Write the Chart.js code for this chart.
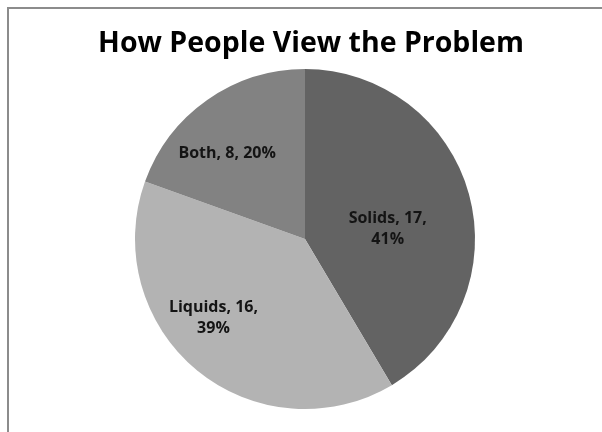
<!DOCTYPE html>
<html>
<head>
<meta charset="utf-8">
<script src="https://cdn.jsdelivr.net/npm/chart.js@4/dist/chart.umd.min.js"></script>
<style>
  html, body { margin: 0; padding: 0; background: #fff; }
  #wrap { position: relative; width: 602px; height: 432px; }
</style>
</head>
<body>
<div id="wrap"><canvas id="chart-view" width="602" height="432"></canvas></div>
<script>
const CATEGORIES = ['Solids', 'Liquids', 'Both'];
const COUNTS = [17, 16, 8];
const SLICE_COLORS = ['#636363', '#b3b3b3', '#828282'];

const FONT = '"Open Sans", "Liberation Sans", sans-serif';

// label placement inside each slice: radius as share of the pie, angle nudge in degrees
const LABEL_RADIUS = [0.49, 0.71, 0.68];
const LABEL_NUDGE = [8.5, 9.8, -7.2];

// gray frame at the top-left, and a small shift to the right for the title
const framePlugin = {
  id: 'frame',
  beforeDraw(chart) {
    const ctx = chart.ctx;
    ctx.save();
    ctx.strokeStyle = '#8c8c8c';
    ctx.lineWidth = 2;
    ctx.beginPath();
    ctx.moveTo(8, chart.height + 5);
    ctx.lineTo(8, 8);
    ctx.lineTo(chart.width + 5, 8);
    ctx.stroke();
    ctx.restore();
    ctx.save();
    ctx.translate(6, 0);
  },
  beforeDatasetsDraw(chart) {
    chart.ctx.restore();
  }
};

// "Category, count, pct%" text inside the slices
const sliceLabels = {
  id: 'sliceLabels',
  afterDatasetsDraw(chart) {
    const ctx = chart.ctx;
    const meta = chart.getDatasetMeta(0);
    const data = chart.data.datasets[0].data;
    const total = data.reduce((a, b) => a + b, 0);
    ctx.save();
    ctx.font = 'bold 16px ' + FONT;
    ctx.fillStyle = '#141414';
    ctx.textAlign = 'center';
    ctx.textBaseline = 'middle';
    meta.data.forEach((arc, i) => {
      const p = arc.getProps(['x', 'y', 'startAngle', 'endAngle', 'outerRadius'], true);
      const mid = (p.startAngle + p.endAngle) / 2 + LABEL_NUDGE[i] * Math.PI / 180;
      const r = p.outerRadius * LABEL_RADIUS[i];
      const cx = p.x + Math.cos(mid) * r;
      const cy = p.y + Math.sin(mid) * r;
      const pct = Math.round(data[i] / total * 100) + '%';
      const head = chart.data.labels[i] + ', ' + data[i] + ',';
      let lines;
      if (i === 2) {
        lines = [head + ' ' + pct];
      } else {
        lines = [head, pct];
      }
      const lh = 21;
      lines.forEach((t, k) => {
        ctx.fillText(t, cx, cy + (k - (lines.length - 1) / 2) * lh);
      });
    });
    ctx.restore();
  }
};

new Chart(document.getElementById('chart-view'), {
  type: 'pie',
  data: {
    labels: CATEGORIES,
    datasets: [{
      data: COUNTS,
      backgroundColor: SLICE_COLORS,
      borderWidth: 0,
    }]
  },
  options: {
    responsive: false,
    animation: false,
    layout: {
      padding: { left: 8, right: 0, top: 0, bottom: 23 }
    },
    plugins: {
      legend: { display: false },
      tooltip: { enabled: false },
      title: {
        display: true,
        text: 'How People View the Problem',
        color: '#000',
        font: { family: FONT, size: 28.5, weight: 'bold', lineHeight: 1.2 },
        padding: { top: 26.5, bottom: 8.3 }
      }
    }
  },
  plugins: [framePlugin, sliceLabels]
});
</script>
</body>
</html>
